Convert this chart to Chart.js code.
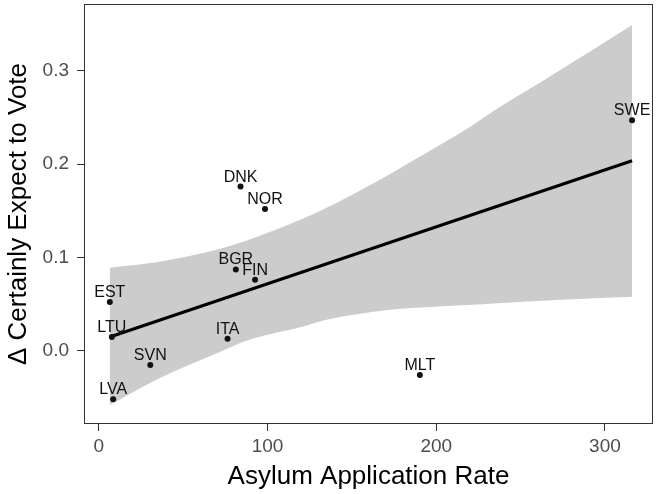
<!DOCTYPE html>
<html>
<head>
<meta charset="utf-8">
<script src="https://cdn.jsdelivr.net/npm/chart.js@4/dist/chart.umd.min.js"></script>
<style>
  body { margin: 0; background: #fff; }
  #chartBox { width: 657px; height: 494px; }
</style>
</head>
<body>
<div id="chartBox"><canvas id="asylumChart" width="657" height="494"></canvas></div>
<script>
// Country points
const countries = ['SWE', 'DNK', 'NOR', 'BGR', 'FIN', 'EST', 'LTU', 'ITA', 'SVN', 'LVA', 'MLT'];
const asylumRate = [316.1, 84.0, 98.5, 81.2, 92.6, 6.5, 7.7, 76.3, 30.5, 8.5, 190.3];
const voteChange = [0.247, 0.176, 0.152, 0.087, 0.076, 0.052, 0.0145, 0.0127, -0.0156, -0.0524, -0.0263];

// Fitted line (ends)
const fitX = [6.5, 316.1];
const fitY = [0.0145, 0.2037];

// Confidence band edges
const bandX = [6.5, 36, 71.4, 86.1, 121.5, 136.3, 171.6, 183.4, 218.8, 236.5, 271.9, 316.1];
const bandUpper = [0.0889, 0.0953, 0.1090, 0.117, 0.1419, 0.1543, 0.1884, 0.2009, 0.2385, 0.2599, 0.2993, 0.3494];
const bandLower = [-0.0585, -0.0298, -0.0020, 0.0097, 0.0260, 0.0335, 0.0435, 0.0453, 0.0488, 0.0507, 0.0542, 0.0577];

const xTicks = [0, 100, 200, 300];
const yTicks = [0.0, 0.1, 0.2, 0.3];

const FONT = "'Liberation Sans', Arial, sans-serif";

// draw the full panel box
const panelBorder = {
    id: 'panelBorder',
    afterDraw(chart) {
        const a = chart.chartArea;
        const ctx = chart.ctx;
        ctx.save();
        ctx.strokeStyle = '#333333';
        ctx.lineWidth = 1;
        ctx.strokeRect(a.left + 0.5, a.top + 0.5, a.right - a.left - 1, a.bottom - a.top - 1);
        ctx.restore();
    }
};

// country codes above the points
const pointLabels = {
    id: 'pointLabels',
    afterDatasetsDraw(chart) {
        const ctx = chart.ctx;
        const xs = chart.scales.x;
        const ys = chart.scales.y;
        ctx.save();
        ctx.font = '16px ' + FONT;
        ctx.fillStyle = '#111111';
        ctx.textAlign = 'center';
        ctx.textBaseline = 'alphabetic';
        countries.forEach((name, i) => {
            const px = xs.getPixelForValue(asylumRate[i]);
            const py = ys.getPixelForValue(voteChange[i]);
            ctx.fillText(name, px, py - 5);
        });
        ctx.restore();
    }
};

const ctx = document.getElementById('asylumChart').getContext('2d');
new Chart(ctx, {
    type: 'scatter',
    data: {
        datasets: [
            {
                label: 'points',
                data: asylumRate.map((x, i) => ({ x: x, y: voteChange[i] })),
                backgroundColor: '#111111',
                borderWidth: 0,
                pointRadius: 3,
                order: 1
            },
            {
                label: 'fit',
                data: fitX.map((x, i) => ({ x: x, y: fitY[i] })),
                showLine: true,
                borderColor: '#000000',
                borderWidth: 3,
                pointRadius: 0,
                order: 2
            },
            {
                label: 'upper',
                data: bandX.map((x, i) => ({ x: x, y: bandUpper[i] })),
                showLine: true,
                borderColor: 'rgba(0,0,0,0)',
                borderWidth: 0,
                backgroundColor: '#cccccc',
                pointRadius: 0,
                cubicInterpolationMode: 'monotone',
                fill: '+1',
                order: 3
            },
            {
                label: 'lower',
                data: bandX.map((x, i) => ({ x: x, y: bandLower[i] })),
                showLine: true,
                borderColor: 'rgba(0,0,0,0)',
                borderWidth: 0,
                pointRadius: 0,
                cubicInterpolationMode: 'monotone',
                fill: false,
                order: 4
            }
        ]
    },
    options: {
        responsive: false,
        animation: false,
        layout: { padding: { top: 4, right: 1, left: 0, bottom: 0 } },
        plugins: {
            legend: { display: false },
            tooltip: { enabled: false }
        },
        scales: {
            x: {
                type: 'linear',
                min: -8.8,
                max: 328.5,
                afterBuildTicks: scale => { scale.ticks = xTicks.map(v => ({ value: v })); },
                afterFit: scale => {
                    scale.height = 70;
                    scale.paddingLeft = 0;
                    scale.paddingRight = 0;
                },
                grid: { drawOnChartArea: false, drawTicks: true, tickLength: 7, color: '#333333' },
                border: { display: false },
                ticks: {
                    color: '#4d4d4d',
                    font: { family: FONT, size: 19 },
                    padding: 4,
                    maxRotation: 0,
                    callback: v => String(v)
                },
                title: {
                    display: true,
                    text: 'Asylum Application Rate',
                    color: '#000000',
                    font: { family: FONT, size: 26 },
                    padding: { top: 0, bottom: 2 }
                }
            },
            y: {
                type: 'linear',
                min: -0.0789,
                max: 0.3719,
                afterBuildTicks: scale => { scale.ticks = yTicks.map(v => ({ value: v })); },
                afterFit: scale => {
                    scale.width = 84;
                    scale.paddingTop = 0;
                    scale.paddingBottom = 0;
                },
                grid: { drawOnChartArea: false, drawTicks: true, tickLength: 7, color: '#333333' },
                border: { display: false },
                ticks: {
                    color: '#4d4d4d',
                    font: { family: FONT, size: 19 },
                    padding: 8,
                    callback: v => v.toFixed(1)
                },
                title: {
                    display: true,
                    text: 'Δ Certainly Expect to Vote',
                    color: '#000000',
                    font: { family: FONT, size: 26 },
                    padding: { top: 3, bottom: 0 }
                }
            }
        }
    },
    plugins: [panelBorder, pointLabels]
});
</script>
</body>
</html>
